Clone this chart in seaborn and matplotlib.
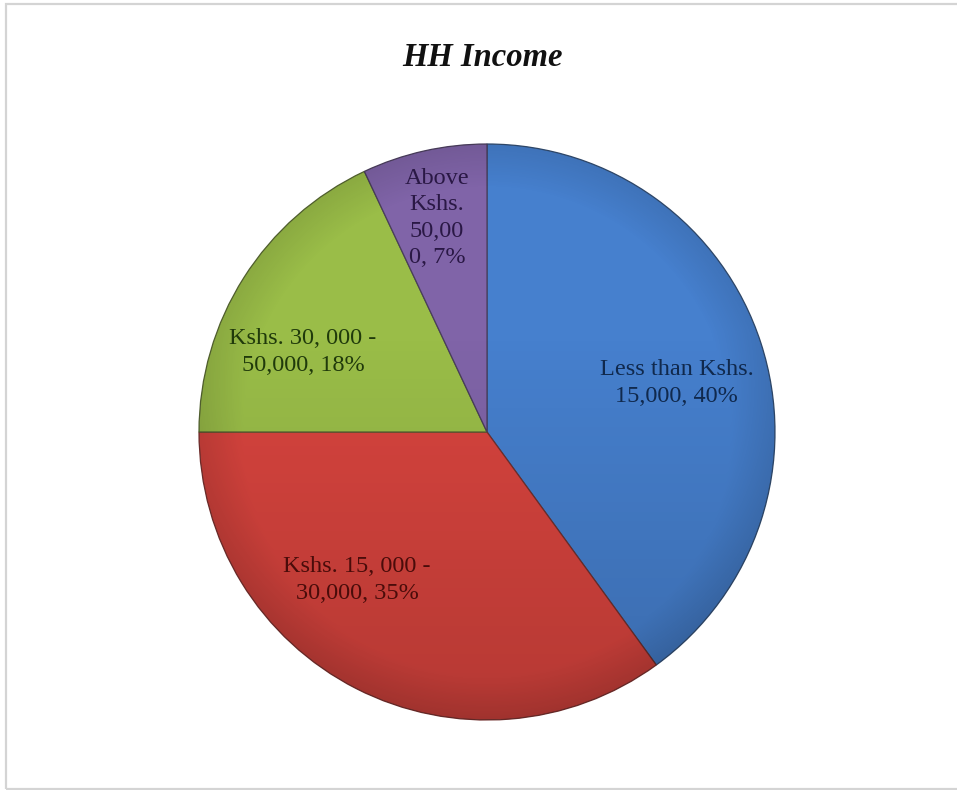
import numpy as np
import matplotlib
matplotlib.use("Agg")
import matplotlib.pyplot as plt
from matplotlib.patches import Circle, Rectangle
import seaborn as sns

# Household income brackets and their shares (%)
categories = ["Less than Kshs.\n15,000", "Kshs. 15, 000 -\n30,000", "Kshs. 30, 000 -\n50,000", "Above\nKshs.\n50,00\n0"]
shares = [40, 35, 18, 7]
title = "HH Income"

slice_colors = ["#4680CE", "#D8443E", "#9ABD48", "#8064A8"]
text_colors = ["#10294D", "#4A0C0A", "#203A0B", "#2A1845"]
# label anchor (angle in degrees, fraction of radius) for each slice
label_anchor = [(14.5, 0.68), (-131.3, 0.684), (156.5, 0.697), (103.2, 0.763)]

sns.set_theme(style="white")
plt.rcParams["font.family"] = ["Liberation Serif", "DejaVu Serif"]

fig = plt.figure(figsize=(9.57, 7.90), dpi=100)
fig.patch.set_facecolor("white")

# light frame around the chart area
fig.add_artist(Rectangle((6 / 957, 1 / 790), 1.2, 785 / 790, transform=fig.transFigure,
                         fill=False, edgecolor="#d4d4d4", linewidth=1.6))

ax = fig.add_axes([199 / 957, 70 / 790, 576 / 957, 576 / 790])
wedges, _ = ax.pie(shares, colors=slice_colors, startangle=90, counterclock=False,
                   radius=1.0, wedgeprops=dict(edgecolor="#2b3a55", linewidth=0.9))
for w, c in zip(wedges, slice_colors):
    w.set_edgecolor(sns.dark_palette(c, n_colors=6)[2])

# soft vertical shading over the pie: lighter on top, darker toward the bottom
yy = np.linspace(1, -1, 300)[:, None] * np.ones((1, 300))
xx = np.ones((300, 1)) * np.linspace(-1, 1, 300)[None, :]
rr = np.sqrt(xx ** 2 + yy ** 2)
shade = np.zeros((300, 300, 4))
dark = np.clip(0.16 * (0.35 - yy) / 1.35, 0, None) + 0.10 * np.clip(rr - 0.85, 0, None) / 0.15
shade[..., 3] = np.clip(dark, 0, 0.3)
im = ax.imshow(shade, extent=(-1, 1, -1, 1), zorder=3, interpolation="bilinear")
im.set_clip_path(Circle((0, 0), 1.0, transform=ax.transData))

for cat, val, (ang, frac), tc in zip(categories, shares, label_anchor, text_colors):
    a = np.deg2rad(ang)
    ax.text(frac * np.cos(a), frac * np.sin(a), f"{cat}, {val}%", ha="center", va="center",
            fontsize=17.5, color=tc, linespacing=1.33, zorder=5)

ax.set_xlim(-1.0, 1.0)
ax.set_ylim(-1.0, 1.0)
ax.set_aspect("equal")
ax.axis("off")

fig.text(482 / 957, 1 - 57 / 790, title, ha="center", va="center", fontsize=23.5,
         fontweight="bold", fontstyle="italic", color="#111111")

fig.savefig("out.png", dpi=100, facecolor="white")
